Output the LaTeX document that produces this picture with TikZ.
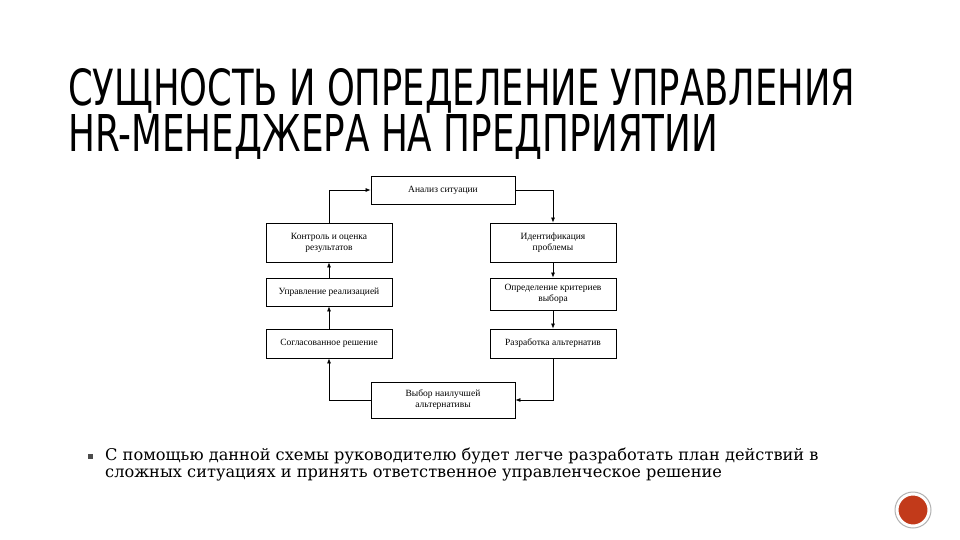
\documentclass[tikz,border=0pt]{standalone}
\usepackage{fontspec}
\setmainfont{DejaVu Serif}
\newfontfamily\titlefont{DejaVu Sans}
\newfontfamily\boxfont{Liberation Serif}
\usetikzlibrary{arrows.meta}
\definecolor{dotred}{HTML}{C23A1A}
\begin{document}
\begin{tikzpicture}[x=1pt,y=-1pt,
  bx/.style={draw,line width=0.8pt,minimum width=126pt,align=center,font=\boxfont\fontsize{9.5}{11}\selectfont,inner sep=1pt},
  ar/.style={line width=0.7pt,-{Latex[length=5pt,width=4pt]}}]
\useasboundingbox (0,0) rectangle (960,540);
\fill[white] (0,0) rectangle (960,540);
\node[anchor=north west,inner sep=0] (t1) at (68,68) {\resizebox{787pt}{37pt}{\titlefont СУЩНОСТЬ И ОПРЕДЕЛЕНИЕ УПРАВЛЕНИЯ}};
\node[anchor=north west,inner sep=0] (t2) at (68,114) {\resizebox{650pt}{37pt}{\titlefont HR-МЕНЕДЖЕРА НА ПРЕДПРИЯТИИ}};
\node[bx,minimum width=144pt,minimum height=28pt] (a) at (443,190) {Анализ ситуации};
\node[bx,minimum height=39pt] (k) at (329,242.5) {Контроль и оценка\\результатов};
\node[bx,minimum height=28pt] (u) at (329,292) {Управление реализацией};
\node[bx,minimum height=29pt] (s) at (329,343.5) {Согласованное решение};
\node[bx,minimum height=39pt] (i) at (553,242.5) {Идентификация\\проблемы};
\node[bx,minimum height=32pt] (o) at (553,294) {Определение критериев\\выбора};
\node[bx,minimum height=29pt] (r) at (553,343.5) {Разработка альтернатив};
\node[bx,minimum width=144pt,minimum height=36pt] (v) at (443,400) {Выбор наилучшей\\альтернативы};
\draw[ar] (a.east) -| (i.north);
\draw[ar] (i) -- (o);
\draw[ar] (o) -- (r);
\draw[ar] (r.south) |- (v.east);
\draw[ar] (v.west) -| (s.south);
\draw[ar] (s) -- (u);
\draw[ar] (u) -- (k);
\draw[ar] (k.north) |- (a.west);
\fill[black!70] (88,454) rectangle (93,459);
\node[anchor=north west,inner sep=0,align=left,font=\fontsize{16.2}{16.5}\selectfont] (txt) at (105,448) {С помощью данной схемы руководителю будет легче разработать план действий в\\сложных ситуациях и принять ответственное управленческое решение};
\node[circle,draw=white!70!black,line width=1pt,minimum size=36pt,inner sep=0] (c) at (913,510) {};
\node[circle,fill=dotred,draw=white,line width=1pt,minimum size=30pt,inner sep=0] at (c) {};
\end{tikzpicture}
\end{document}
